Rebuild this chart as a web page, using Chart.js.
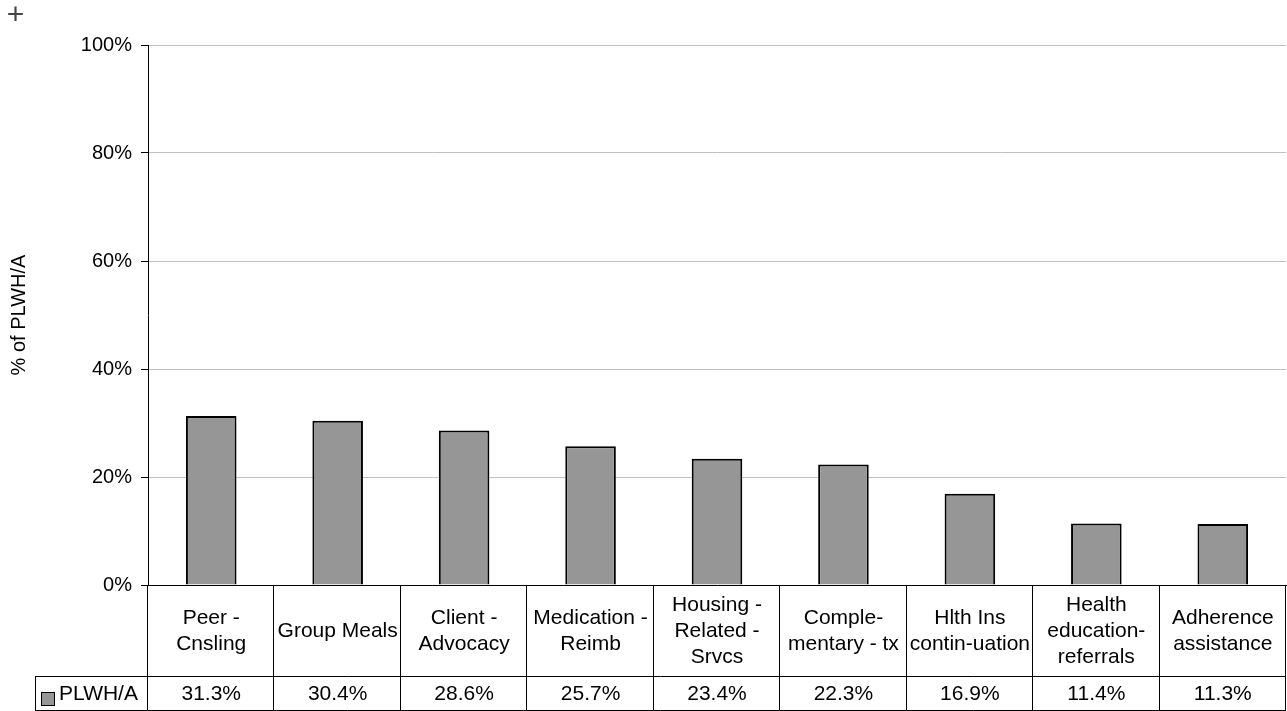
<!DOCTYPE html>
<html>
<head>
<meta charset="utf-8">
<title>% of PLWH/A by service</title>
<script src="https://cdn.jsdelivr.net/npm/chart.js@4/dist/chart.umd.min.js"></script>
<style>
    html, body { margin: 0; padding: 0; background: #fff; }
    #wrap { width: 1287px; height: 711px; }
</style>
</head>
<body>
<div id="wrap"><canvas id="serviceChart" width="1287" height="711"></canvas></div>
<script>
// Services, each label split into the lines shown in the table cell
var categories = [
    ["Peer -", "Cnsling"],
    ["Group Meals"],
    ["Client -", "Advocacy"],
    ["Medication -", "Reimb"],
    ["Housing -", "Related -", "Srvcs"],
    ["Comple-", "mentary - tx"],
    ["Hlth Ins", "contin-uation"],
    ["Health", "education-", "referrals"],
    ["Adherence", "assistance"]
];
var seriesName = "PLWH/A";
var plwhaValues = [31.3, 30.4, 28.6, 25.7, 23.4, 22.3, 16.9, 11.4, 11.3];
var yTicks = [0, 20, 40, 60, 80, 100];

var FONT = "'Liberation Sans', Arial, sans-serif";
var BAR_FILL = "#969696";

// Data table under the plot: category row, then the value row with the legend key
var dataTablePlugin = {
    id: 'dataTable',
    afterDraw: function(chart) {
        var ctx = chart.ctx;
        var x = chart.scales.x;
        var area = chart.chartArea;
        var top = area.bottom;
        var rowSplit = 676;
        var bottom = 710;
        var legendLeft = 35;
        var half = (x.getPixelForValue(1) - x.getPixelForValue(0)) / 2;

        ctx.save();
        ctx.strokeStyle = "#000";
        ctx.lineWidth = 1;
        ctx.beginPath();
        // cell dividers
        for (var i = 0; i <= categories.length; i++) {
            var bx = Math.round(i < categories.length ? x.getPixelForValue(i) - half : x.getPixelForValue(i - 1) + half) - 0.5;
            ctx.moveTo(bx, top);
            ctx.lineTo(bx, bottom);
        }
        ctx.moveTo(legendLeft + 0.5, rowSplit);
        ctx.lineTo(legendLeft + 0.5, bottom);
        ctx.moveTo(legendLeft, rowSplit + 0.5);
        ctx.lineTo(area.right, rowSplit + 0.5);
        ctx.moveTo(legendLeft, bottom + 0.5);
        ctx.lineTo(area.right, bottom + 0.5);
        ctx.stroke();

        ctx.fillStyle = "#000";
        ctx.font = "21px " + FONT;
        ctx.textAlign = "center";
        ctx.textBaseline = "middle";
        var lineH = 26;
        var midCat = (top + rowSplit) / 2 + 1;
        var midVal = (rowSplit + bottom) / 2 + 1;
        categories.forEach(function(lines, i) {
            var cx = x.getPixelForValue(i);
            var y0 = midCat - (lines.length - 1) * lineH / 2;
            lines.forEach(function(t, j) {
                ctx.fillText(t, cx, y0 + j * lineH);
            });
            ctx.fillText(plwhaValues[i].toFixed(1) + "%", cx, midVal);
        });

        // legend key
        ctx.fillStyle = BAR_FILL;
        ctx.fillRect(41.5, 692.5, 13, 13);
        ctx.strokeRect(41.5, 692.5, 13, 13);
        ctx.fillStyle = "#000";
        ctx.textAlign = "left";
        ctx.fillText(seriesName, 59, midVal);

        // small cross mark at the top-left corner
        ctx.font = "30px " + FONT;
        ctx.fillStyle = "#444";
        ctx.textAlign = "center";
        ctx.fillText("+", 15.5, 16);
        ctx.restore();
    }
};

new Chart(document.getElementById("serviceChart"), {
    type: 'bar',
    data: {
        labels: categories,
        datasets: [{
            label: seriesName,
            data: plwhaValues,
            backgroundColor: BAR_FILL,
            borderColor: "#000",
            borderWidth: 2,
            categoryPercentage: 1,
            barPercentage: 0.4
        }]
    },
    options: {
        responsive: false,
        animation: false,
        layout: { padding: { top: 45, right: 1, left: 0, bottom: 0 } },
        plugins: {
            legend: { display: false },
            tooltip: { enabled: false }
        },
        scales: {
            x: {
                ticks: { display: false },
                grid: { display: false },
                border: { display: true, color: "#000", width: 1 },
                afterFit: function(scale) { scale.height = 126; }
            },
            y: {
                min: 0,
                max: 100,
                afterBuildTicks: function(scale) {
                    scale.ticks = yTicks.map(function(v) { return { value: v }; });
                },
                ticks: {
                    padding: 9,
                    color: "#000",
                    font: { family: FONT, size: 20 },
                    callback: function(v) { return v + "%"; }
                },
                grid: {
                    color: "#c0c0c0",
                    lineWidth: 1,
                    tickLength: 7,
                    tickColor: "#000"
                },
                border: { display: true, color: "#000", width: 1 },
                title: {
                    display: true,
                    text: "% of PLWH/A",
                    color: "#000",
                    font: { family: FONT, size: 20 },
                    padding: { top: 7, bottom: 0 }
                },
                afterFit: function(scale) { scale.width = 148; }
            }
        }
    },
    plugins: [dataTablePlugin]
});
</script>
</body>
</html>
